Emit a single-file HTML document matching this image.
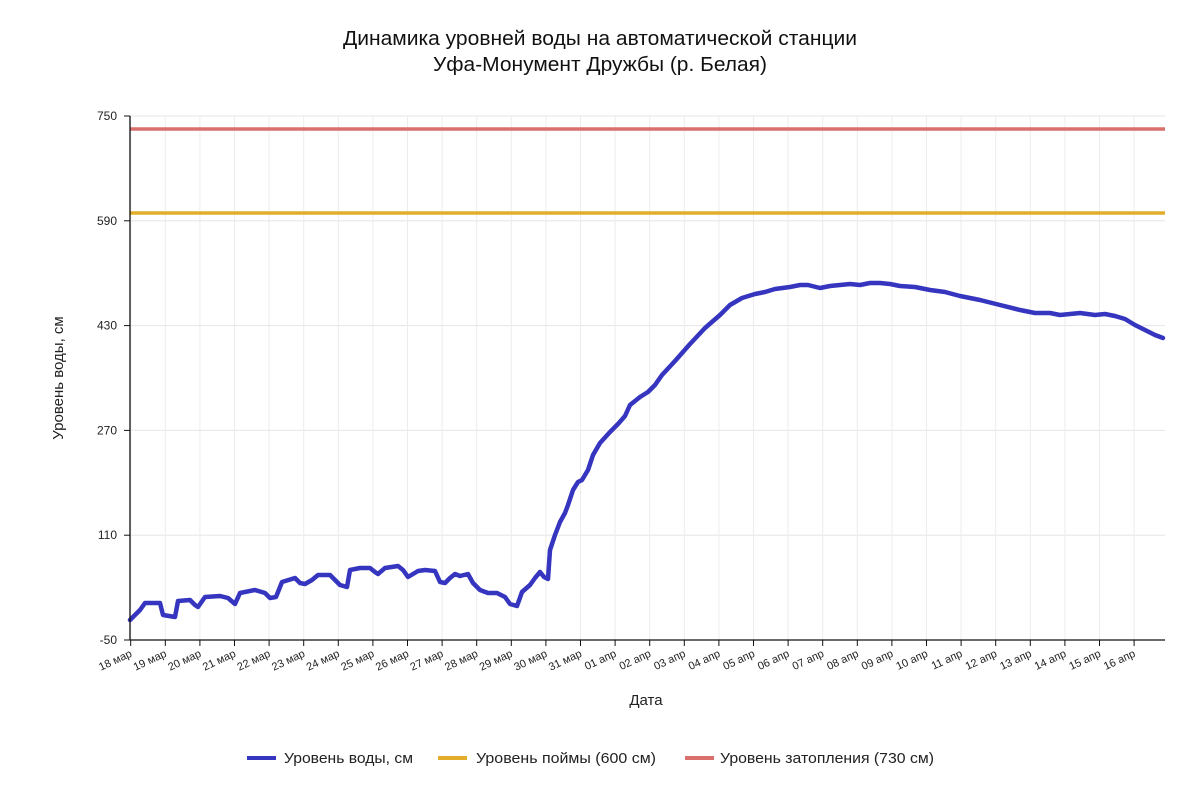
<!DOCTYPE html>
<html><head><meta charset="utf-8"><style>html,body{margin:0;padding:0;background:#fff}svg{display:block}</style></head>
<body>
<svg id="s" width="1200" height="800" xmlns="http://www.w3.org/2000/svg" font-family="Liberation Sans, DejaVu Sans, sans-serif">
<rect width="1200" height="800" fill="#fff"/>
<g id="grid"></g>
<text x="600" y="45" font-size="20" text-anchor="middle" fill="#111" textLength="514" lengthAdjust="spacingAndGlyphs">Динамика уровней воды на автоматической станции</text>
<text x="600" y="71" font-size="20" text-anchor="middle" fill="#111" textLength="334" lengthAdjust="spacingAndGlyphs">Уфа-Монумент Дружбы (р. Белая)</text>
<text transform="translate(63,378) rotate(-90)" font-size="15" text-anchor="middle" fill="#222">Уровень воды, см</text>
<text x="646" y="705" font-size="15" text-anchor="middle" fill="#222">Дата</text>
<line x1="130" y1="129" x2="1165" y2="129" stroke="#d9706e" stroke-width="3.5"/>
<line x1="130" y1="213" x2="1165" y2="213" stroke="#e1ad2a" stroke-width="3.5"/>
<polyline id="data" fill="none" stroke="#3535c0" stroke-width="4.5" stroke-linejoin="round" stroke-linecap="round" points="130,620 135,615 140,610 145,603 160,603 163,615 175,617 178,601 190,600 195,605 198,607 205,597 220,596 228,598 235,604 240,593 255,590 265,593 270,598 276,597 282,582 295,578 300,583 305,584 312,580 318,575 330,575 335,580 340,585 347,587 350,570 360,568 370,568 375,572 378,574 385,568 398,566 403,570 408,577 413,574 418,571 425,570 435,571 440,582 445,583 450,578 455,574 460,576 468,574 473,583 480,590 488,593 497,593 505,597 510,604 517,606 522,592 530,585 535,578 540,572 544,577 548,579 550,550 555,535 560,522 565,513 568,505 573,490 578,482 582,480 588,470 593,455 600,443 610,432 618,424 625,416 630,405 640,397 648,392 655,385 662,375 675,361 690,344 705,328 720,315 730,305 742,298 755,294 765,292 775,289 790,287 800,285 808,285 820,288 830,286 840,285 850,284 860,285 870,283 880,283 890,284 900,286 915,287 930,290 945,292 960,296 980,300 1000,305 1020,310 1035,313 1050,313 1060,315 1070,314 1080,313 1095,315 1105,314 1115,316 1125,319 1135,325 1145,330 1155,335 1163,338"/>
<line x1="130" y1="116" x2="130" y2="640" stroke="#111" stroke-width="1.3"/>
<line x1="130" y1="640" x2="1165" y2="640" stroke="#111" stroke-width="1.3"/>
<g font-size="15" fill="#222">
<line x1="247" y1="758" x2="276" y2="758" stroke="#3535c0" stroke-width="4"/>
<text x="284" y="763" textLength="129" lengthAdjust="spacingAndGlyphs">Уровень воды, см</text>
<line x1="438" y1="758" x2="467" y2="758" stroke="#e1ad2a" stroke-width="4"/>
<text x="476" y="763" textLength="180" lengthAdjust="spacingAndGlyphs">Уровень поймы (600 см)</text>
<line x1="685" y1="758" x2="714" y2="758" stroke="#d9706e" stroke-width="4"/>
<text x="720" y="763" textLength="214" lengthAdjust="spacingAndGlyphs">Уровень затопления (730 см)</text>
</g>
</svg>
<script>
var g=document.getElementById('grid'),h='';
var ys=[750,590,430,270,110,-50];
ys.forEach(function(v){var y=116+(750-v)*524/800;
h+='<line x1="130" x2="1165" y1="'+y+'" y2="'+y+'" stroke="#e6e6e6" stroke-width="1"/>';
h+='<line x1="124" x2="130" y1="'+y+'" y2="'+y+'" stroke="#111"/>';
h+='<text x="117" y="'+(y+4)+'" font-size="12" text-anchor="end" fill="#222">'+v+'</text>';});
var lab=[];for(var d=18;d<=31;d++)lab.push(d+' мар');for(var d=1;d<=16;d++)lab.push((d<10?'0':'')+d+' апр');
lab.forEach(function(t,i){var x=130.7+i*34.6;
h+='<line x1="'+x+'" x2="'+x+'" y1="116" y2="640" stroke="#ececec"/>';
h+='<line x1="'+x+'" x2="'+x+'" y1="640" y2="646" stroke="#111"/>';
h+='<text transform="translate('+(x+2)+',656) rotate(-25)" font-size="11" text-anchor="end" fill="#222">'+t+'</text>';});
g.innerHTML=h;
</script>
</body></html>
